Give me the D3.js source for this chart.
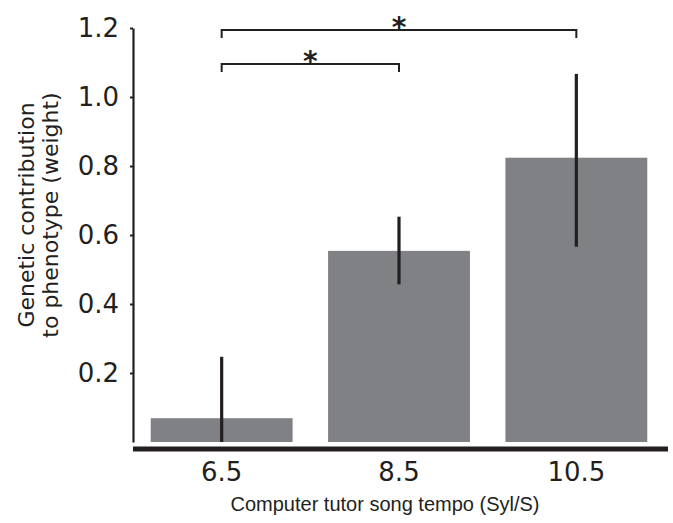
<!DOCTYPE html>
<html>
<head>
<meta charset="utf-8">
<script src="https://cdn.jsdelivr.net/npm/d3@7"></script>
<style>
  body { margin: 0; background: #fff; }
  svg { display: block; }
</style>
</head>
<body>
<div id="chart"></div>
<script>
// data
var tempos = ["6.5", "8.5", "10.5"];
var weights = [0.069, 0.554, 0.824];
var errLow = [0.0, 0.457, 0.566];
var errHigh = [0.247, 0.653, 1.067];
var yTicks = [0.2, 0.4, 0.6, 0.8, 1.0, 1.2];
// significance brackets: bar index from/to, height in data units
var brackets = [
  {from: 0, to: 2, level: 1.194, label: "*"},
  {from: 0, to: 1, level: 1.096, label: "*"}
];

var width = 673, height = 523;
var ink = "#231f20";

var svg = d3.select("#chart")
  .append("svg")
    .attr("width", width)
    .attr("height", height);

var x = d3.scaleBand()
  .domain(tempos)
  .range([133, 665])
  .paddingInner(0.2)
  .paddingOuter(0.1);

var y = d3.scaleLinear()
  .domain([0, 1.2])
  .range([442, 28]);

// Y axis
var yAxis = svg.append("g")
  .attr("transform", "translate(133,0)")
  .call(d3.axisLeft(y).tickValues(yTicks).tickFormat(d3.format(".1f")).tickSize(3).tickSizeOuter(0).tickPadding(11));
yAxis.select(".domain").attr("stroke", ink).attr("stroke-width", 2.2);
yAxis.selectAll(".tick line").attr("stroke", ink).attr("stroke-width", 2);
yAxis.selectAll(".tick text")
  .attr("fill", ink)
  .style("font-family", "DejaVu Sans")
  .style("font-size", "26px");

// bars
svg.append("g")
  .selectAll("rect")
  .data(weights)
  .enter()
  .append("rect")
    .attr("x", function(d, i) { return x(tempos[i]); })
    .attr("y", function(d) { return y(d); })
    .attr("width", x.bandwidth())
    .attr("height", function(d) { return y(0) - y(d); })
    .attr("fill", "#808184");

// error bars
svg.append("g")
  .selectAll("line")
  .data(weights)
  .enter()
  .append("line")
    .attr("x1", function(d, i) { return x(tempos[i]) + x.bandwidth() / 2; })
    .attr("x2", function(d, i) { return x(tempos[i]) + x.bandwidth() / 2; })
    .attr("y1", function(d, i) { return y(errLow[i]); })
    .attr("y2", function(d, i) { return y(errHigh[i]); })
    .attr("stroke", ink)
    .attr("stroke-width", 3.2);

// X axis (thick baseline below the bars)
var xAxis = svg.append("g")
  .attr("transform", "translate(0,449)")
  .call(d3.axisBottom(x).tickSize(0).tickPadding(14));
xAxis.select(".domain").remove();
xAxis.append("line")
  .attr("x1", x.range()[0])
  .attr("x2", x.range()[1] + 3)
  .attr("stroke", ink)
  .attr("stroke-width", 5);
xAxis.selectAll(".tick text")
  .attr("fill", ink)
  .style("font-family", "DejaVu Sans")
  .style("font-size", "26px");

// axis titles
svg.append("text")
  .attr("x", 385)
  .attr("y", 511)
  .attr("text-anchor", "middle")
  .attr("fill", ink)
  .style("font-family", "Liberation Sans")
  .style("font-size", "20px")
  .text("Computer tutor song tempo (Syl/S)");

var ytitle = svg.append("text")
  .attr("transform", "translate(34,215) rotate(-90)")
  .attr("text-anchor", "middle")
  .attr("fill", ink)
  .style("font-family", "DejaVu Sans")
  .style("font-size", "22px");
ytitle.append("tspan").attr("x", 0).attr("y", 0).text("Genetic contribution");
ytitle.append("tspan").attr("x", 0).attr("y", 24).text("to phenotype (weight)");

// significance brackets
var mid = function(i) { return x(tempos[i]) + x.bandwidth() / 2; };
var br = svg.append("g")
  .selectAll("g")
  .data(brackets)
  .enter()
  .append("g");
br.append("path")
  .attr("d", function(d) {
    var yy = y(d.level);
    return "M" + mid(d.from) + "," + (yy + 8) + "V" + yy + "H" + mid(d.to) + "V" + (yy + 8);
  })
  .attr("fill", "none")
  .attr("stroke", ink)
  .attr("stroke-width", 2);
br.append("text")
  .attr("x", function(d) { return (mid(d.from) + mid(d.to)) / 2; })
  .attr("y", function(d) { return y(d.level) + 7; })
  .attr("text-anchor", "middle")
  .attr("fill", ink)
  .style("font-family", "DejaVu Sans")
  .style("font-weight", "bold")
  .style("font-size", "28px")
  .text(function(d) { return d.label; });
</script>
</body>
</html>
